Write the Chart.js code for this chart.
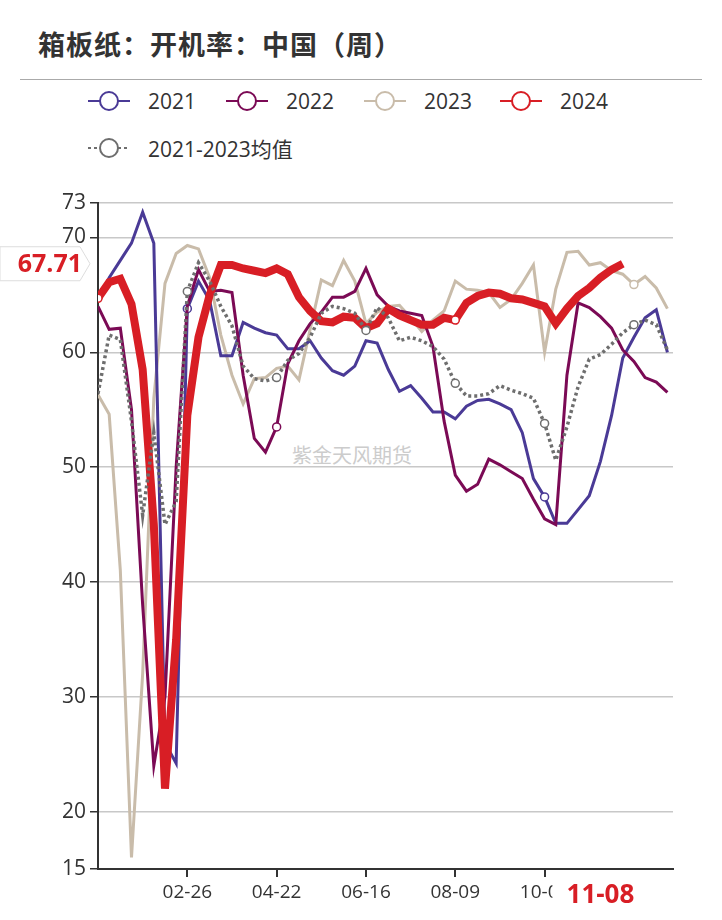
<!DOCTYPE html>
<html><head><meta charset="utf-8">
<script src="https://cdn.jsdelivr.net/npm/chart.js@4"></script>
<style>
body{margin:0;background:#fff;font-family:"Open Sans","Noto Sans CJK SC",sans-serif;}
#wrap{position:relative;width:722px;height:920px;}
#c{position:absolute;left:0;top:0;}
.title{position:absolute;left:38px;top:24px;font:bold 27px "Noto Sans CJK SC";color:#333;letter-spacing:1px}
.hr{position:absolute;left:20px;top:79px;width:682px;height:1px;background:#aaa}
.lg{position:absolute;font-size:21px;color:#333;display:flex;align-items:center}
.wm{position:absolute;left:292px;top:440px;font:20px "Noto Sans CJK SC";color:#ccc}
</style></head><body>
<div id="wrap">
<div class="title">箱板纸：开机率：中国（周）</div>
<div class="hr"></div>
<div id="legend"></div>
<div class="wm">紫金天风期货</div>
<canvas id="c" width="722" height="920"></canvas>
</div>
<script>
const weekLabels=["01-01","01-08","01-15","01-22","01-29","02-05","02-12","02-19","02-26","03-04","03-11","03-18","03-25","04-01","04-08","04-15","04-22","04-29","05-06","05-13","05-20","05-27","06-03","06-10","06-16","06-23","06-30","07-07","07-14","07-21","07-28","08-02","08-09","08-16","08-23","08-30","09-06","09-13","09-20","09-27","10-04","10-11","10-18","10-25","11-01","11-08","11-15","11-22","11-29","12-06","12-13","12-20"];
const yTicks=[15,20,30,40,50,60,70,73];
const s2021=[64.5,66.5,68,69.5,72.2,69.5,26,24.2,63.8,66.2,64.5,59.7,59.7,62.6,62.1,61.7,61.5,60.3,60.3,61,59.5,58.4,58,58.8,61,60.8,58.5,56.6,57.1,56,54.8,54.8,54.2,55.3,55.8,55.9,55.5,55,53,49,47.4,45.1,45.1,46.3,47.5,50.5,54.5,59.5,61.3,63,63.7,60];
const s2022=[64,62,62.1,55,38,24,30,50,64,67.2,65.3,65.4,65.2,58,52.5,51.3,53.5,59,61,62.5,63.5,64.8,64.8,65.3,67.3,65,64,63.6,63.4,63.2,60.5,54,49.3,47.9,48.5,50.7,50.2,49.6,49,47.2,45.5,45,58,64.3,63.9,63.1,62.1,60.2,59.2,57.8,57.4,56.5];
const s2023=[56.3,54.6,41,16,32,56,66,68.6,69.3,69,66.5,61.5,58,55.5,57.7,57.8,58.6,58.8,57.6,62,66.3,65.8,68,66.2,62.5,63.5,64,64.1,63,61.8,62.8,63.6,66.2,65.5,65.4,65.2,63.9,64.6,66,67.6,60,65.5,68.7,68.8,67.6,67.8,67.1,66.8,65.9,66.6,65.6,63.8];
const s2024=[64.7,66.1,66.4,64.2,58.5,45,22,35,54.5,61.3,65,67.6,67.6,67.3,67.1,66.9,67.3,66.8,64.8,63.6,62.7,62.6,63.1,63,62.1,62.5,63.8,63.2,62.8,62.4,62.4,63,62.8,64.3,64.9,65.2,65.1,64.7,64.6,64.3,64,62.5,63.8,64.9,65.6,66.5,67.2,67.71];
const sAvg=[56.4,61.5,61.1,54,45.8,53,45,47,65.3,67.8,66.2,64,62.3,58.8,57.7,57.5,57.8,59.3,59.9,61.3,63.4,64,63.8,63.4,61.9,63.9,63,61,61.3,61,60.5,59.4,57.3,56.2,56.2,56.4,57.1,56.7,56.4,56,53.8,50.6,53.5,57,59.4,59.8,60.7,61.7,62.4,62.8,62.4,60.2];
const names=["2021","2022","2023","2024","2021-2023均值"];
const colors=["#4a3a96","#7b0a55","#c9bcaa","#d81e25","#6e6e6e"];
const series=[s2021,s2022,s2023,s2024,sAvg];
const markerIdx=[[8,40],[16],[48],[0,32],[8,16,24,32,40,48]];
const widths=[3,3,3,8,3.5];
const orders=[4,3,5,2,1];
const hiLabel="11-08";

const lg=document.getElementById('legend');
const pos=[[88,101],[226,101],[364,101],[500,101],[88,148]];
names.forEach((n,i)=>{
  const d=document.createElement('div');d.className='lg';
  d.style.left=pos[i][0]+'px';d.style.top=(pos[i][1]-15)+'px';
  d.innerHTML=`<svg width="42" height="30"><line x1="0" y1="15" x2="42" y2="15" stroke="${colors[i]}" stroke-width="2" ${i==4?'stroke-dasharray="3,3"':''}/><circle cx="21" cy="15" r="9" fill="#fff" stroke="${colors[i]}" stroke-width="2"/></svg><span style="margin-left:18px">${n}</span>`;
  lg.appendChild(d);
});

const datasets=series.map((s,k)=>({
  label:names[k],
  data:s.map((v,i)=>({x:i,y:v})),
  borderColor:colors[k],borderWidth:widths[k],
  borderDash:k==4?[3,3]:[],
  tension:0,order:orders[k],
  pointRadius:c=>markerIdx[k].includes(c.dataIndex)?4:0,
  pointBackgroundColor:'#fff',pointBorderColor:colors[k],pointBorderWidth:1.5
}));

const overlay={id:'overlay',afterDraw(ch){
  const g=ch.ctx,ys=ch.scales.y,xs=ch.scales.x;
  const last=s2024[s2024.length-1];
  const yy=ys.getPixelForValue(last);
  g.save();
  g.fillStyle='#fff';g.strokeStyle='#ddd';g.lineWidth=1;
  g.beginPath();g.moveTo(0,yy-17);g.lineTo(80,yy-17);g.lineTo(90,yy);g.lineTo(80,yy+17);g.lineTo(0,yy+17);g.closePath();g.fill();g.stroke();
  g.fillStyle='#d81e25';g.font='bold 25px "Open Sans"';g.textAlign='right';g.textBaseline='middle';
  g.fillText(last.toFixed(2),82,yy+1);
  const xi=weekLabels.indexOf(hiLabel);
  const xx=xs.getPixelForValue(xi);
  g.fillStyle='#fff';g.fillRect(xx-48,878,96,38);
  g.fillStyle='#d81e25';g.textAlign='center';g.font='bold 26px "Open Sans"';
  g.fillText(hiLabel,xx,896);
  g.restore();
}};

new Chart(document.getElementById('c'),{
  type:'line',
  data:{datasets},
  plugins:[overlay],
  options:{
    responsive:false,animation:false,
    layout:{padding:{top:203,right:49,left:0,bottom:0}},
    plugins:{legend:{display:false},tooltip:{enabled:false}},
    scales:{
      x:{type:'linear',min:0,max:51.5,
        afterBuildTicks:a=>{a.ticks=[8,16,24,32,40].map(v=>({value:v}));},
        afterFit:a=>{a.height=51;},
        ticks:{callback:v=>weekLabels[v],font:{size:19,family:'Open Sans'},color:'#333',maxRotation:0,padding:4,autoSkip:false},
        grid:{display:true,drawOnChartArea:false,color:'#333',tickLength:8,lineWidth:2},
        border:{color:'#333',width:2}},
      y:{min:15,max:73,
        afterBuildTicks:a=>{a.ticks=yTicks.map(v=>({value:v}));},
        afterFit:a=>{a.width=98;},
        ticks:{font:{size:21,family:'Open Sans'},color:'#333',padding:4},
        grid:{color:'#c8c8c8',lineWidth:1.5,tickLength:8,tickColor:'#333'},
        border:{color:'#333',width:2}}
    }
  }
});
</script></body></html>
